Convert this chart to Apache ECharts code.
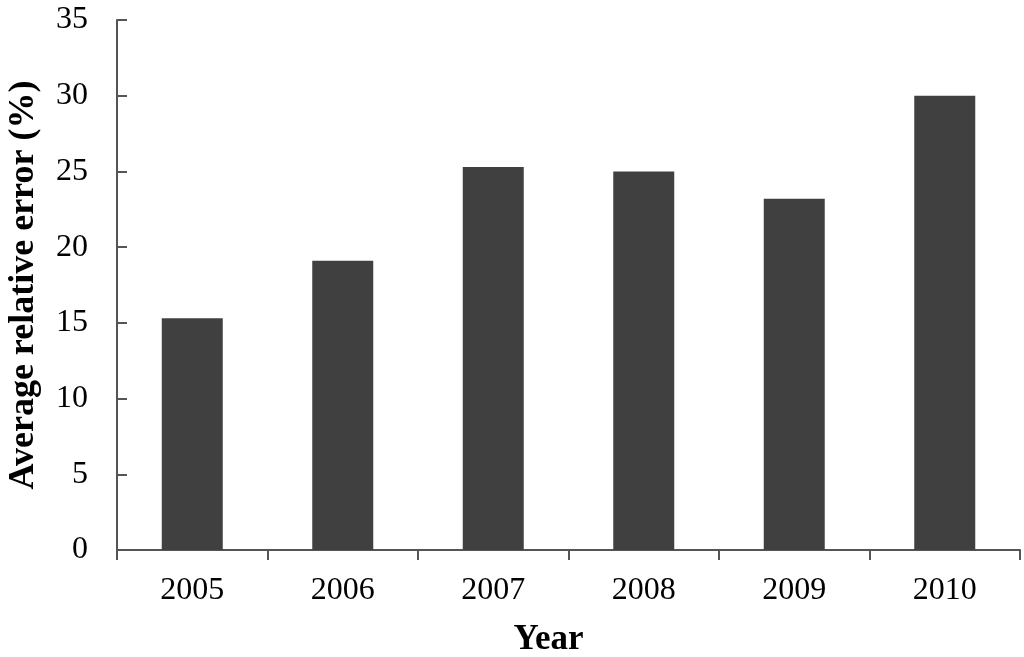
<!DOCTYPE html>
<html>
<head>
<meta charset="utf-8">
<script src="https://cdn.jsdelivr.net/npm/echarts@6/dist/echarts.min.js"></script>
<style>
  html, body { margin: 0; padding: 0; background: #fff; }
  #container { width: 1024px; height: 657px; }
</style>
</head>
<body>
<div id="container"></div>
<script>
// data
var years = ["2005", "2006", "2007", "2008", "2009", "2010"];
var avgRelError = [15.3, 19.1, 25.3, 25.0, 23.2, 30.0];
var yTicks = { min: 0, max: 35, interval: 5 };

var font = "'Liberation Serif', 'Times New Roman', serif";
var axisColor = "#555555";

var chart = echarts.init(document.getElementById("container"), null, { renderer: "canvas" });
chart.setOption({
    animation: false,
    backgroundColor: "#ffffff",
    grid: { left: 117, right: 4, top: 20, bottom: 107, containLabel: false, outerBoundsMode: "none" },
    xAxis: {
        type: "category",
        data: years,
        name: "Year",
        nameLocation: "middle",
        nameGap: 72,
        nameMoveOverlap: false,
        // the title sits a little left of the axis centre in the original
        nameTextStyle: { fontFamily: font, fontSize: 35, fontWeight: "bold", color: "#000", padding: [0, 40, 0, 0] },
        axisLine: { lineStyle: { color: axisColor, width: 2 } },
        axisTick: { show: true, inside: false, length: 10, lineStyle: { color: axisColor, width: 2 } },
        axisLabel: { fontFamily: font, fontSize: 32, color: "#000", margin: 25 },
        splitLine: { show: false }
    },
    yAxis: {
        type: "value",
        min: yTicks.min,
        max: yTicks.max,
        interval: yTicks.interval,
        name: "Average relative error (%)",
        nameLocation: "middle",
        nameGap: 75,
        nameMoveOverlap: false,
        nameTextStyle: { fontFamily: font, fontSize: 36, fontWeight: "bold", color: "#000" },
        axisLine: { show: true, lineStyle: { color: axisColor, width: 2 } },
        axisTick: { show: true, inside: true, length: 10, lineStyle: { color: axisColor, width: 2 } },
        axisLabel: { fontFamily: font, fontSize: 32, color: "#000", margin: 29 },
        splitLine: { show: false }
    },
    series: [{
        type: "bar",
        data: avgRelError,
        barWidth: 61,
        itemStyle: { color: "#404040" }
    }]
});
</script>
</body>
</html>
